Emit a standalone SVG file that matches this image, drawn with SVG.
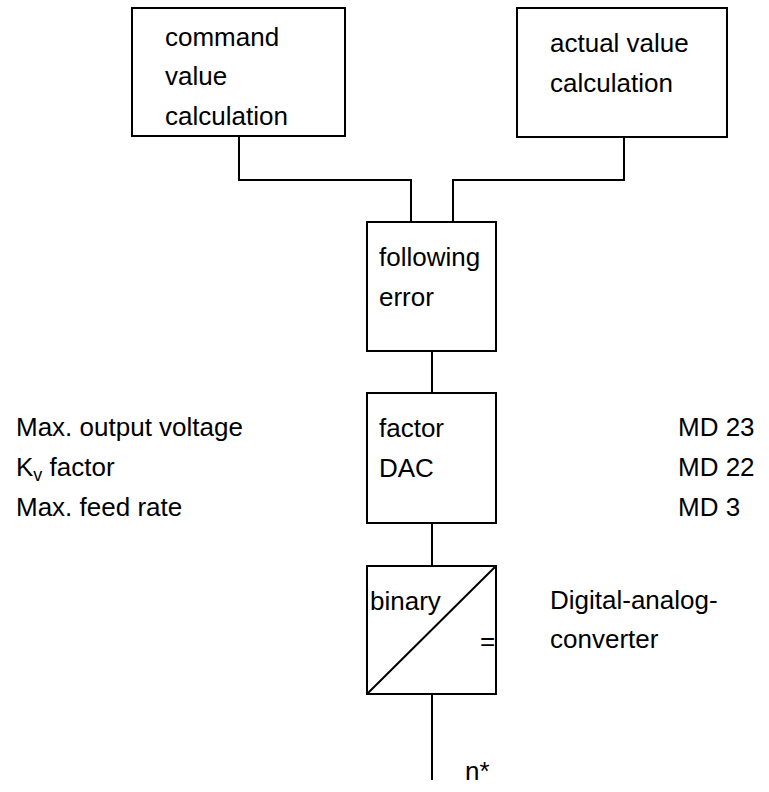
<svg xmlns="http://www.w3.org/2000/svg" width="769" height="792" viewBox="0 0 769 792">
<style>
.box{fill:none;stroke:#000;stroke-width:2}
.ln{fill:none;stroke:#000;stroke-width:2}
text{font-family:"Liberation Sans",Arial,sans-serif;font-size:26px;fill:#000}
</style>
<rect width="769" height="792" fill="#fff"/>
<g id="connectors">
<polyline class="ln" points="239,136 239,180 411,180 411,222"/>
<polyline class="ln" points="624,137 624,180 453,180 453,222"/>
<line class="ln" x1="432" y1="351" x2="432" y2="393"/>
<line class="ln" x1="432" y1="523" x2="432" y2="566"/>
<line class="ln" x1="432" y1="694" x2="432" y2="780"/>
</g>
<g id="command">
<rect class="box" x="132" y="8" width="213" height="128"/>
<text x="165" y="46">command</text>
<text x="165" y="85">value</text>
<text x="165" y="125">calculation</text>
</g>
<g id="actual">
<rect class="box" x="517" y="8" width="210" height="129"/>
<text x="550" y="52">actual value</text>
<text x="550" y="92">calculation</text>
</g>
<g id="following">
<rect class="box" x="367" y="222" width="129" height="129"/>
<text x="379" y="266">following</text>
<text x="379" y="306">error</text>
</g>
<g id="factor">
<rect class="box" x="367" y="393" width="129" height="130"/>
<text x="379" y="437">factor</text>
<text x="379" y="477">DAC</text>
</g>
<g id="dac">
<rect class="box" x="367" y="566" width="129" height="128"/>
<line class="ln" x1="367" y1="694" x2="496" y2="566"/>
<text x="370" y="610">binary</text>
<text x="480" y="650">=</text>
</g>
<g id="labels">
<text x="16" y="436">Max. output voltage</text>
<text x="16" y="476">K<tspan font-size="18" dy="5">v</tspan><tspan dy="-5"> factor</tspan></text>
<text x="16" y="516">Max. feed rate</text>
<text x="678" y="436">MD 23</text>
<text x="678" y="476">MD 22</text>
<text x="678" y="516">MD 3</text>
<text x="550" y="609">Digital-analog-</text>
<text x="550" y="648">converter</text>
<text x="465" y="780">n*</text>
</g>
</svg>
